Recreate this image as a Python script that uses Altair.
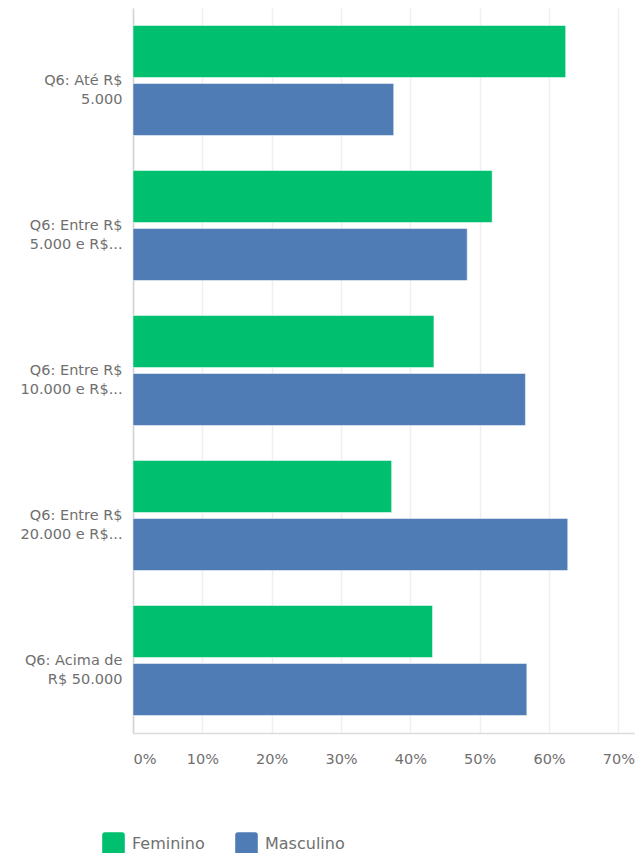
import altair as alt
import pandas as pd

categories = [
    "Q6: Até R$|5.000",
    "Q6: Entre R$|5.000 e R$...",
    "Q6: Entre R$|10.000 e R$...",
    "Q6: Entre R$|20.000 e R$...",
    "Q6: Acima de|R$ 50.000",
]
series = ["Feminino", "Masculino"]
feminino = [0.624, 0.518, 0.434, 0.373, 0.432]
masculino = [0.376, 0.482, 0.566, 0.627, 0.568]
x_ticks = [0, 0.1, 0.2, 0.3, 0.4, 0.5, 0.6, 0.7]
colors = ["#00bf6f", "#507cb6"]

rows = []
for c, f, m in zip(categories, feminino, masculino):
    rows.append({"cat": c, "series": "Feminino", "value": f})
    rows.append({"cat": c, "series": "Masculino", "value": m})
df = pd.DataFrame(rows)

FONT = "DejaVu Sans"
TXT = "#6f6f6f"
rounded = "M -1 -0.75 Q -1 -1 -0.75 -1 L 0.75 -1 Q 1 -1 1 -0.75 L 1 0.75 Q 1 1 0.75 1 L -0.75 1 Q -1 1 -1 0.75 Z"

chart = alt.Chart(df).mark_bar(
    stroke="white", strokeOpacity=0.5, strokeWidth=1
).encode(
    y=alt.Y(
        "cat:N",
        sort=categories,
        scale=alt.Scale(paddingInner=0, paddingOuter=0),
        axis=alt.Axis(
            title=None,
            labelExpr="split(datum.label, '|')",
            labelFont=FONT,
            labelFontSize=14.5,
            labelLineHeight=19,
            labelColor=TXT,
            labelPadding=11,
            labelLimit=300,
            ticks=False,
            domainColor="#d3d3d3",
            domainWidth=1.5,
            grid=False,
        ),
    ),
    yOffset=alt.YOffset(
        "series:N",
        sort=series,
        scale=alt.Scale(paddingInner=0.1034, paddingOuter=0.3017),
    ),
    x=alt.X(
        "value:Q",
        scale=alt.Scale(domain=[0, 0.724], nice=False, zero=True),
        axis=alt.Axis(
            values=x_ticks,
            format="%",
            title=None,
            grid=True,
            gridColor="#efefef",
            gridWidth=1.5,
            ticks=False,
            tickSize=0,
            labelPadding=19,
            labelFont=FONT,
            labelFontSize=14.5,
            labelColor=TXT,
            labelFlush=True,
            domainColor="#dcdcdc",
            domainWidth=1.5,
        ),
    ),
    color=alt.Color(
        "series:N",
        scale=alt.Scale(domain=series, range=colors),
        legend=alt.Legend(
            title=None,
            orient="none",
            direction="horizontal",
            legendX=-31,
            legendY=824,
            symbolType=rounded,
            symbolSize=510,
            symbolStrokeWidth=0,
            symbolOpacity=1,
            labelFont=FONT,
            labelFontSize=16,
            labelColor=TXT,
            labelOffset=7,
            columnPadding=30,
        ),
    ),
).properties(
    width=502,
    height=725,
    autosize=alt.AutoSizeParams(type="none"),
    padding={"left": 125, "top": 0, "right": 0, "bottom": 120},
).configure_view(strokeWidth=0)

chart.save("out.html", embed_options={"renderer": "svg", "actions": False})
